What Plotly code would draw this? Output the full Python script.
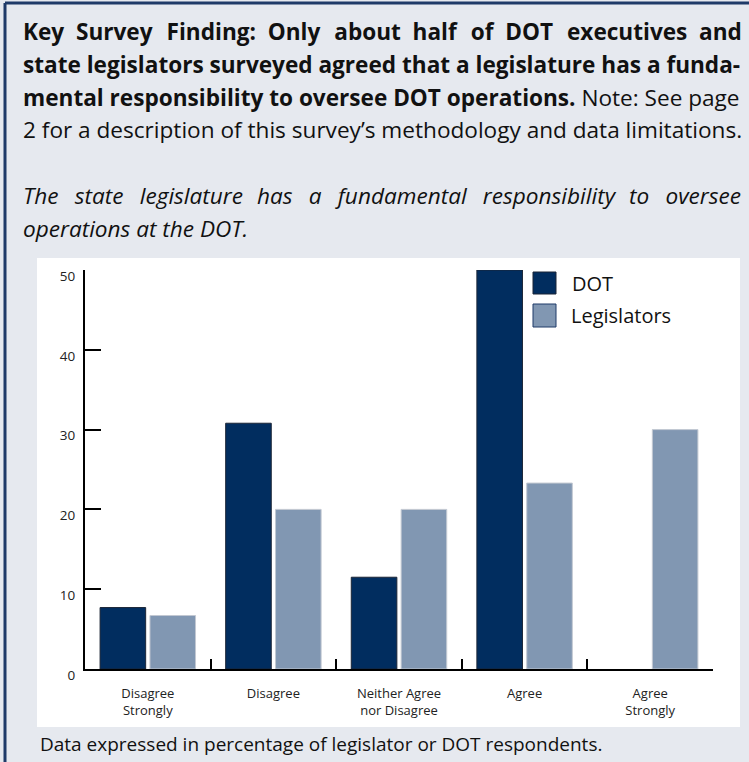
import plotly.graph_objects as go

categories = ["Disagree<br>Strongly", "Disagree", "Neither Agree<br>nor Disagree", "Agree", "Agree<br>Strongly"]
dot_values = [7.7, 30.8, 11.5, 50.0, 0.0]
legislator_values = [6.7, 20.0, 20.0, 23.3, 30.0]
y_ticks = [0, 10, 20, 30, 40, 50]
series_names = ["DOT", "Legislators"]

DOT_COLOR = "#012d5f"
LEG_COLOR = "#8197b2"
BG = "#e6e9ef"
BORDER = "#1f3a68"
FONT = "'Open Sans', 'Noto Sans', sans-serif"

W, H = 749, 762
L, R, T, B = 85, 713, 270, 669  # plot area in pixels


def px(x):
    return (x - L) / (R - L)


def py(y):
    return (B - y) / (B - T)


fig = go.Figure()
fig.add_trace(go.Bar(x=categories, y=dot_values, name=series_names[0],
                     marker=dict(color=DOT_COLOR,
                                 line=dict(color="#1b2536",
                                           width=[1 if v > 0 else 0 for v in dot_values])),
                     showlegend=False))
fig.add_trace(go.Bar(x=categories, y=legislator_values, name=series_names[1],
                     marker=dict(color=LEG_COLOR, line=dict(color="#c3c9d2", width=1)),
                     showlegend=False))

shapes = [
    dict(type="rect", xref="paper", yref="paper", x0=px(37), x1=px(740), y0=py(727), y1=py(258),
         fillcolor="white", line=dict(width=0), layer="below"),
    dict(type="line", xref="paper", yref="paper", x0=px(5), x1=px(5), y0=py(3), y1=py(770),
         line=dict(color=BORDER, width=3)),
    dict(type="line", xref="paper", yref="paper", x0=px(5), x1=px(760), y0=py(3), y1=py(3),
         line=dict(color=BORDER, width=3)),
    dict(type="rect", xref="paper", yref="paper", x0=px(533), x1=px(556), y0=py(294), y1=py(272),
         fillcolor=DOT_COLOR, line=dict(color="#1b2536", width=1)),
    dict(type="rect", xref="paper", yref="paper", x0=px(533), x1=px(556), y0=py(327), y1=py(304),
         fillcolor=LEG_COLOR, line=dict(color=BORDER, width=1)),
]

annotations = []


def text_line(txt, x, y, size, **kw):
    annotations.append(dict(text=txt, xref="paper", yref="paper", x=px(x), y=py(y),
                            xanchor="left", yanchor="middle", showarrow=False,
                            font=dict(family=FONT, size=size, color="#111"), **kw))


NB = "\u00a0"
HAIR = "\u200a"


def justify(txt, extra_gaps):
    words = txt.split(" ")
    out = words[0]
    for i, w in enumerate(words[1:]):
        out += " " + extra_gaps(i) + w
    return out


title_lines = [
    "<b>" + justify("Key Survey Finding: Only about half of DOT executives and",
                    lambda i: NB + (HAIR if i % 2 == 1 else "")) + "</b>",
    "<b>state legislators surveyed agreed that a legislature has a funda-</b>",
    "<b>mental responsibility to oversee DOT operations.</b> Note: See page",
    "2 for a description of this survey\u2019s methodology and data limitations.",
]
for i, t in enumerate(title_lines):
    text_line(t, 21, 32 + i * 32.5, 22.6)

question_lines = [
    "<i>" + justify("The state legislature has a fundamental responsibility to oversee",
                    lambda i: NB + HAIR + (HAIR if i not in (2, 6) else "")) + "</i>",
    "<i>operations at the DOT.</i>",
]
for i, t in enumerate(question_lines):
    text_line(t, 21, 196 + i * 32.5, 22.6)

text_line(series_names[0], 570, 283, 20)
text_line(series_names[1], 569, 315, 20)
text_line("Data expressed in percentage of legislator or DOT respondents.", 38, 744, 19)

fig.update_layout(
    width=W, height=H,
    margin=dict(l=L, r=W - R, t=T, b=H - B, pad=0),
    paper_bgcolor=BG, plot_bgcolor="white",
    bargap=0.206, bargroupgap=0.086, barmode="group",
    shapes=shapes, annotations=annotations,
    font=dict(family=FONT, color="#222"),
    showlegend=False,
)
fig.update_xaxes(showline=True, linecolor="black", linewidth=2, ticks="inside", ticklen=10,
                 tickwidth=2, tickcolor="black", tickson="boundaries", showgrid=False,
                 tickfont=dict(family=FONT, size=13, color="#222"), ticklabelstandoff=11)
fig.update_yaxes(range=[0, 50], showline=True, linecolor="black", linewidth=2, ticks="inside",
                 ticklen=16, tickwidth=2, tickcolor="black", tickvals=y_ticks, showgrid=False,
                 zeroline=False, tickfont=dict(family=FONT, size=13.5, color="#222"),
                 ticklabelstandoff=5, ticklabelshift=6)

fig.write_html("out.html", config={"displayModeBar": False},
               post_script="document.body.style.margin='0';")
